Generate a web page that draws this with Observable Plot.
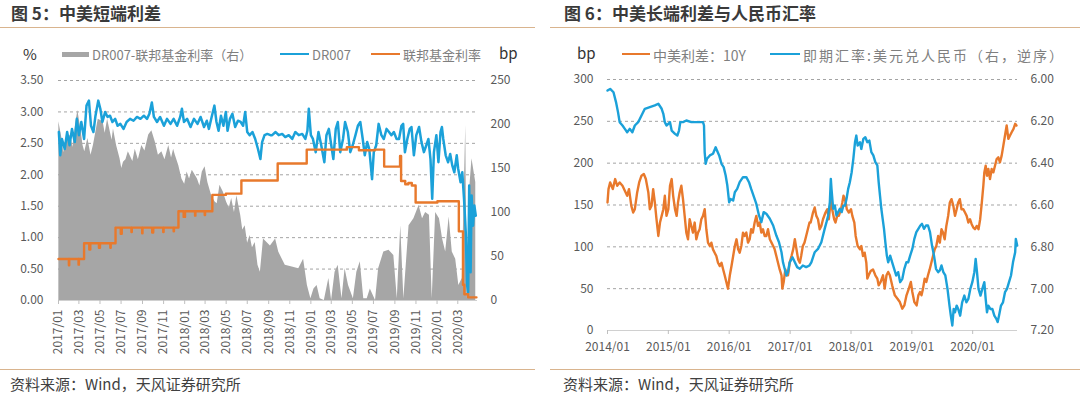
<!DOCTYPE html>
<html><head><meta charset="utf-8">
<script src="https://cdn.jsdelivr.net/npm/d3@7"></script>
<script src="https://cdn.jsdelivr.net/npm/@observablehq/plot@0.6"></script>
<style>
body{margin:0;background:#fff;}
#root{position:relative;width:1080px;height:395px;overflow:hidden;background:#fff;font-family:"Noto Sans CJK SC","Noto Sans",sans-serif;}
.abs{position:absolute;white-space:nowrap;line-height:1;}
.title{font-size:17px;font-weight:bold;color:#3a3a3a;}
.rule{position:absolute;height:1px;background:#d9b48e;}
.foot{font-size:15px;color:#404040;}
.leg{font-size:13px;color:#7f7f7f;}
.unit{font-size:15px;color:#333;}
.sw{position:absolute;}
</style></head><body><div id="root"></div>
<script>
// ---------------- Figure 5 data ----------------
const leftXLabels = ["2017/01","2017/03","2017/05","2017/07","2017/09","2017/11","2018/01","2018/03","2018/05","2018/07","2018/09","2018/11","2019/01","2019/03","2019/05","2019/07","2019/09","2019/11","2020/01","2020/03"];
const leftYTicks = [0,0.5,1,1.5,2,2.5,3,3.5];
const bpTicks = [0,50,100,150,200,250];
const leftSeriesNames = ["DR007-联邦基金利率（右）","DR007","联邦基金利率"];

const dr007 = [["2017-01-02",2.68],["2017-01-06",2.31],["2017-01-11",2.57],["2017-01-19",2.41],["2017-01-26",2.68],["2017-02-02",2.47],["2017-02-09",2.73],["2017-02-17",2.52],["2017-02-23",2.89],["2017-03-01",2.63],["2017-03-08",2.84],["2017-03-16",2.57],["2017-03-23",3.10],["2017-03-30",3.18],["2017-04-05",2.78],["2017-04-12",2.68],["2017-04-18",2.94],["2017-04-26",3.18],["2017-05-02",3.05],["2017-05-08",2.84],["2017-05-16",3.00],["2017-05-23",2.92],["2017-05-30",2.94],["2017-06-06",2.84],["2017-06-14",2.89],["2017-06-21",2.78],["2017-06-29",2.81],["2017-07-08",2.73],["2017-07-17",2.84],["2017-07-27",2.89],["2017-08-06",2.86],["2017-08-16",2.92],["2017-08-26",2.89],["2017-09-05",2.94],["2017-09-14",2.89],["2017-09-21",2.97],["2017-09-28",3.15],["2017-10-04",2.92],["2017-10-13",2.84],["2017-10-22",2.92],["2017-11-02",2.78],["2017-11-11",2.89],["2017-11-21",2.81],["2017-11-30",2.89],["2017-12-10",2.78],["2017-12-19",2.92],["2017-12-24",3.05],["2017-12-30",2.84],["2018-01-08",2.89],["2018-01-18",2.76],["2018-01-28",2.89],["2018-02-07",2.81],["2018-02-16",2.92],["2018-02-26",2.76],["2018-03-06",2.86],["2018-03-12",2.73],["2018-03-20",2.92],["2018-03-28",3.10],["2018-04-03",2.84],["2018-04-09",2.70],["2018-04-16",2.94],["2018-04-23",2.78],["2018-04-30",3.00],["2018-05-05",2.70],["2018-05-12",2.89],["2018-05-19",2.97],["2018-05-27",2.76],["2018-06-04",2.86],["2018-06-12",2.84],["2018-06-19",2.78],["2018-06-25",3.00],["2018-07-01",2.68],["2018-07-08",2.63],["2018-07-16",2.68],["2018-07-24",2.57],["2018-08-01",2.41],["2018-08-08",2.25],["2018-08-13",2.52],["2018-08-20",2.63],["2018-08-28",2.65],["2018-09-06",2.63],["2018-09-11",2.63],["2018-09-21",2.68],["2018-09-30",2.63],["2018-10-10",2.65],["2018-10-19",2.60],["2018-10-29",2.63],["2018-11-08",2.57],["2018-11-17",2.68],["2018-11-27",2.63],["2018-12-07",2.65],["2018-12-16",2.57],["2018-12-22",2.70],["2018-12-26",3.05],["2019-01-01",2.63],["2019-01-07",2.57],["2019-01-15",2.36],["2019-01-23",2.68],["2019-01-31",2.47],["2019-02-09",2.20],["2019-02-15",2.63],["2019-02-22",2.73],["2019-03-01",2.47],["2019-03-07",2.25],["2019-03-14",2.73],["2019-03-20",2.84],["2019-03-27",2.36],["2019-04-04",2.57],["2019-04-10",2.84],["2019-04-18",2.68],["2019-04-25",2.36],["2019-05-02",2.47],["2019-05-10",2.63],["2019-05-17",2.78],["2019-05-24",2.84],["2019-05-31",2.57],["2019-06-06",2.31],["2019-06-13",2.52],["2019-06-19",2.41],["2019-06-27",1.93],["2019-07-02",2.36],["2019-07-09",2.47],["2019-07-16",2.81],["2019-07-24",2.63],["2019-07-31",2.57],["2019-08-08",2.73],["2019-08-15",2.68],["2019-08-22",2.63],["2019-08-29",2.68],["2019-09-06",2.57],["2019-09-13",2.57],["2019-09-20",2.78],["2019-09-25",2.81],["2019-09-30",2.36],["2019-10-07",2.57],["2019-10-14",2.73],["2019-10-19",2.76],["2019-10-26",2.31],["2019-11-02",2.63],["2019-11-10",2.76],["2019-11-17",2.52],["2019-11-24",2.36],["2019-12-01",2.47],["2019-12-07",2.57],["2019-12-13",2.25],["2019-12-18",1.62],["2019-12-23",2.36],["2019-12-30",2.63],["2020-01-05",2.20],["2020-01-11",2.68],["2020-01-15",2.76],["2020-01-19",2.57],["2020-01-26",2.31],["2020-02-02",2.20],["2020-02-08",2.33],["2020-02-14",2.15],["2020-02-20",2.04],["2020-02-27",2.31],["2020-03-02",2.10],["2020-03-09",1.88],["2020-03-14",2.04],["2020-03-19",1.62],["2020-03-24",1.09],["2020-03-28",0.24],["2020-03-31",0.13],["2020-04-03",1.83],["2020-04-07",0.45],["2020-04-10",1.67],["2020-04-14",1.19],["2020-04-18",1.51],["2020-04-22",1.35]];

const fedFunds = [["2017-01-01",0.66],["2017-01-31",0.56],["2017-02-01",0.66],["2017-02-28",0.57],["2017-03-01",0.66],["2017-03-16",0.91],["2017-03-31",0.81],["2017-04-03",0.91],["2017-04-28",0.84],["2017-05-01",0.91],["2017-05-31",0.84],["2017-06-01",0.91],["2017-06-15",1.16],["2017-06-30",1.06],["2017-07-03",1.16],["2017-07-31",1.09],["2017-08-01",1.16],["2017-08-31",1.07],["2017-09-01",1.16],["2017-09-29",1.08],["2017-10-02",1.16],["2017-10-31",1.09],["2017-11-01",1.16],["2017-11-30",1.10],["2017-12-01",1.16],["2017-12-14",1.42],["2017-12-29",1.33],["2018-01-02",1.42],["2018-01-31",1.35],["2018-02-01",1.42],["2018-02-28",1.36],["2018-03-01",1.42],["2018-03-22",1.68],["2018-04-30",1.70],["2018-06-14",1.91],["2018-09-27",2.18],["2018-12-20",2.40],["2019-04-15",2.44],["2019-05-20",2.39],["2019-07-05",2.40],["2019-08-01",2.13],["2019-09-16",2.30],["2019-09-19",1.90],["2019-10-01",1.85],["2019-10-10",1.87],["2019-10-20",1.83],["2019-10-31",1.56],["2020-01-02",1.58],["2020-03-04",1.10],["2020-03-16",0.25],["2020-03-20",0.10],["2020-03-31",0.05],["2020-04-24",0.05]];

const dr007MinusFed = [["2017-01-02",203],["2017-01-11",184],["2017-01-16",168],["2017-01-21",180],["2017-02-05",188],["2017-02-12",174],["2017-02-19",199],["2017-02-26",216],["2017-03-08",191],["2017-03-13",176],["2017-03-18",169],["2017-03-27",184],["2017-04-05",165],["2017-04-12",176],["2017-04-26",206],["2017-05-10",203],["2017-05-16",190],["2017-05-23",206],["2017-06-05",182],["2017-06-09",195],["2017-06-18",176],["2017-06-28",161],["2017-07-03",150],["2017-07-08",157],["2017-07-15",160],["2017-07-22",169],["2017-08-04",158],["2017-08-11",172],["2017-08-20",160],["2017-08-30",176],["2017-09-08",170],["2017-09-19",188],["2017-09-28",193],["2017-10-08",180],["2017-10-17",165],["2017-10-27",169],["2017-11-05",160],["2017-11-16",176],["2017-11-24",162],["2017-11-30",172],["2017-12-05",165],["2017-12-15",153],["2017-12-24",138],["2018-01-01",132],["2018-01-08",146],["2018-01-15",138],["2018-01-23",148],["2018-02-07",138],["2018-02-14",130],["2018-02-21",146],["2018-03-01",152],["2018-03-09",134],["2018-03-20",119],["2018-03-30",112],["2018-04-05",110],["2018-04-13",131],["2018-04-23",123],["2018-05-02",112],["2018-05-10",105],["2018-05-17",116],["2018-05-25",100],["2018-06-01",119],["2018-06-12",97],["2018-06-18",80],["2018-06-25",85],["2018-07-02",65],["2018-07-09",74],["2018-07-16",60],["2018-07-24",66],["2018-08-01",40],["2018-08-08",32],["2018-08-17",70],["2018-09-06",62],["2018-09-21",70],["2018-09-30",55],["2018-10-19",40],["2018-11-08",38],["2018-11-27",36],["2018-12-11",47],["2018-12-22",17],["2019-01-01",2],["2019-01-10",13],["2019-01-19",17],["2019-01-28",2],["2019-02-09",0],["2019-02-22",25],["2019-03-02",0],["2019-03-12",32],["2019-03-21",40],["2019-04-01",2],["2019-04-10",36],["2019-04-20",17],["2019-05-04",2],["2019-05-14",32],["2019-05-24",44],["2019-06-03",2],["2019-06-13",2],["2019-06-22",13],["2019-07-07",0],["2019-07-16",36],["2019-07-31",55],["2019-08-15",57],["2019-08-29",51],["2019-09-08",2],["2019-09-18",85],["2019-09-27",2],["2019-10-12",85],["2019-10-26",93],["2019-11-10",108],["2019-11-20",93],["2019-11-29",100],["2019-12-10",97],["2019-12-18",2],["2019-12-28",100],["2020-01-08",93],["2020-01-17",70],["2020-01-26",55],["2020-02-05",95],["2020-02-14",55],["2020-02-24",47],["2020-03-04",17],["2020-03-14",25],["2020-03-24",199],["2020-03-28",2],["2020-04-03",119],["2020-04-11",161],["2020-04-22",134]];

// ---------------- Figure 6 data ----------------
const rightXLabels = ["2014/01","2015/01","2016/01","2017/01","2018/01","2019/01","2020/01"];
const rightYTicks = [0,50,100,150,200,250,300];
const fxTicks = [6.00,6.20,6.40,6.60,6.80,7.00,7.20];
const rightSeriesNames = ["中美利差：10Y","即期汇率:美元兑人民币（右，逆序）"];

const cnUs10ySpread = [["2014-01-01",153],["2014-01-07",169],["2014-01-17",177],["2014-02-02",169],["2014-02-16",181],["2014-02-28",173],["2014-03-15",177],["2014-04-01",173],["2014-04-15",167],["2014-04-29",161],["2014-05-10",169],["2014-05-24",149],["2014-06-04",141],["2014-06-14",145],["2014-06-28",165],["2014-07-10",177],["2014-07-24",185],["2014-08-07",187],["2014-08-19",181],["2014-09-03",165],["2014-09-12",145],["2014-09-22",149],["2014-10-02",169],["2014-10-12",153],["2014-10-22",133],["2014-11-02",113],["2014-11-12",129],["2014-11-22",137],["2014-12-02",145],["2014-12-11",161],["2014-12-21",137],["2015-01-01",145],["2015-01-11",173],["2015-01-21",181],["2015-01-30",161],["2015-02-10",145],["2015-02-20",137],["2015-02-28",153],["2015-03-10",165],["2015-03-20",173],["2015-03-30",157],["2015-04-09",137],["2015-04-19",117],["2015-04-29",109],["2015-05-09",133],["2015-05-19",125],["2015-05-29",117],["2015-06-08",129],["2015-06-18",109],["2015-06-28",117],["2015-07-08",121],["2015-07-18",133],["2015-07-28",137],["2015-08-07",145],["2015-08-17",121],["2015-08-27",105],["2015-09-07",101],["2015-09-16",105],["2015-09-26",97],["2015-10-06",93],["2015-10-16",89],["2015-10-26",81],["2015-11-06",77],["2015-11-16",81],["2015-11-26",73],["2015-12-05",66],["2015-12-15",58],["2015-12-25",50],["2016-01-05",66],["2016-01-15",77],["2016-01-25",89],["2016-02-04",101],["2016-02-14",109],["2016-02-24",97],["2016-03-04",93],["2016-03-14",101],["2016-03-24",117],["2016-04-03",113],["2016-04-13",117],["2016-04-23",105],["2016-05-03",109],["2016-05-12",121],["2016-05-22",117],["2016-06-02",129],["2016-06-12",137],["2016-06-22",125],["2016-07-02",129],["2016-07-12",117],["2016-07-22",121],["2016-08-01",113],["2016-08-11",113],["2016-08-21",121],["2016-09-01",109],["2016-09-11",105],["2016-09-21",101],["2016-09-30",97],["2016-10-10",89],["2016-10-20",81],["2016-10-30",73],["2016-11-10",66],["2016-11-15",50],["2016-11-23",58],["2016-12-03",73],["2016-12-13",66],["2016-12-19",66],["2016-12-29",81],["2017-01-09",89],["2017-01-19",97],["2017-01-29",109],["2017-02-08",97],["2017-02-18",85],["2017-02-28",81],["2017-03-08",89],["2017-03-18",101],["2017-03-28",105],["2017-04-07",113],["2017-04-17",121],["2017-04-27",129],["2017-05-04",129],["2017-05-18",141],["2017-05-28",147],["2017-06-07",137],["2017-06-17",133],["2017-06-27",121],["2017-07-07",125],["2017-07-17",133],["2017-08-01",141],["2017-08-12",145],["2017-08-21",133],["2017-09-02",157],["2017-09-10",145],["2017-09-22",133],["2017-09-30",129],["2017-10-10",137],["2017-10-20",137],["2017-11-02",145],["2017-11-10",153],["2017-11-17",161],["2017-11-26",157],["2017-12-07",145],["2017-12-19",141],["2018-01-01",145],["2018-01-09",137],["2018-01-21",129],["2018-01-29",113],["2018-02-10",101],["2018-02-24",97],["2018-03-04",101],["2018-03-14",89],["2018-03-24",93],["2018-04-03",81],["2018-04-09",62],["2018-04-17",66],["2018-04-29",71],["2018-05-13",73],["2018-05-27",66],["2018-06-08",62],["2018-06-16",54],["2018-06-28",58],["2018-07-12",66],["2018-07-22",50],["2018-08-02",66],["2018-08-12",70],["2018-08-22",66],["2018-09-05",54],["2018-09-21",42],["2018-10-07",38],["2018-10-21",34],["2018-11-05",26],["2018-11-17",30],["2018-11-30",42],["2018-12-14",50],["2018-12-26",58],["2019-01-04",46],["2019-01-16",34],["2019-01-30",30],["2019-02-09",42],["2019-02-19",46],["2019-02-28",42],["2019-03-09",50],["2019-03-19",62],["2019-03-29",58],["2019-04-08",66],["2019-04-18",73],["2019-04-28",81],["2019-05-08",89],["2019-05-18",97],["2019-05-28",101],["2019-06-08",113],["2019-06-18",105],["2019-06-28",121],["2019-07-07",117],["2019-07-17",109],["2019-07-27",125],["2019-08-07",137],["2019-08-17",153],["2019-08-27",157],["2019-09-07",149],["2019-09-17",137],["2019-09-27",145],["2019-10-06",153],["2019-10-16",157],["2019-10-26",145],["2019-11-06",145],["2019-11-16",141],["2019-11-26",137],["2019-12-06",129],["2019-12-16",133],["2019-12-26",127],["2020-01-05",123],["2020-01-15",121],["2020-01-25",125],["2020-02-05",121],["2020-02-15",133],["2020-02-25",153],["2020-03-05",173],["2020-03-11",189],["2020-03-19",197],["2020-03-27",185],["2020-04-04",193],["2020-04-14",181],["2020-04-24",193],["2020-05-04",189],["2020-05-14",197],["2020-05-24",205],["2020-06-03",207],["2020-06-13",201],["2020-06-23",209],["2020-07-03",221],["2020-07-13",233],["2020-07-23",245],["2020-08-02",229],["2020-08-12",233],["2020-08-22",237],["2020-09-02",241],["2020-09-12",247],["2020-09-20",245]];

const usdCny = [["2014-01-01",6.053],["2014-01-17",6.045],["2014-02-06",6.061],["2014-02-21",6.108],["2014-03-05",6.156],["2014-03-15",6.204],["2014-04-01",6.220],["2014-04-15",6.236],["2014-04-29",6.252],["2014-05-14",6.236],["2014-05-30",6.252],["2014-06-14",6.220],["2014-07-04",6.204],["2014-07-24",6.172],["2014-08-13",6.140],["2014-09-12",6.132],["2014-10-12",6.124],["2014-11-02",6.116],["2014-11-22",6.140],["2014-12-02",6.164],["2014-12-11",6.204],["2014-12-21",6.220],["2015-01-11",6.204],["2015-01-21",6.244],["2015-02-10",6.260],["2015-02-24",6.268],["2015-03-06",6.244],["2015-03-14",6.204],["2015-03-30",6.204],["2015-04-19",6.196],["2015-05-19",6.204],["2015-06-18",6.204],["2015-07-08",6.204],["2015-07-28",6.204],["2015-08-03",6.220],["2015-08-07",6.347],["2015-08-13",6.403],["2015-08-21",6.379],["2015-09-07",6.363],["2015-09-26",6.355],["2015-10-12",6.324],["2015-10-20",6.340],["2015-11-02",6.363],["2015-11-16",6.403],["2015-11-29",6.419],["2015-12-11",6.459],["2015-12-21",6.507],["2016-01-01",6.587],["2016-01-09",6.571],["2016-01-25",6.579],["2016-02-04",6.539],["2016-02-18",6.523],["2016-03-04",6.491],["2016-03-24",6.467],["2016-04-13",6.467],["2016-04-29",6.491],["2016-05-12",6.523],["2016-05-26",6.555],["2016-06-12",6.595],["2016-06-28",6.650],["2016-07-12",6.682],["2016-07-26",6.634],["2016-08-11",6.642],["2016-09-01",6.666],["2016-09-21",6.698],["2016-10-10",6.746],["2016-10-26",6.778],["2016-11-10",6.826],["2016-11-19",6.874],["2016-11-29",6.905],["2016-12-09",6.937],["2016-12-19",6.921],["2016-12-29",6.874],["2017-01-15",6.850],["2017-01-29",6.874],["2017-02-12",6.897],["2017-02-28",6.905],["2017-03-18",6.889],["2017-04-07",6.897],["2017-04-27",6.889],["2017-05-08",6.874],["2017-05-28",6.826],["2017-06-17",6.810],["2017-07-07",6.778],["2017-07-27",6.714],["2017-08-07",6.682],["2017-08-17",6.650],["2017-08-27",6.587],["2017-09-02",6.475],["2017-09-06",6.523],["2017-09-16",6.618],["2017-09-26",6.603],["2017-10-06",6.650],["2017-10-16",6.634],["2017-10-26",6.618],["2017-11-06",6.634],["2017-11-16",6.603],["2017-11-26",6.603],["2017-12-05",6.571],["2017-12-15",6.523],["2017-12-25",6.491],["2018-01-05",6.443],["2018-01-15",6.379],["2018-01-25",6.300],["2018-02-02",6.268],["2018-02-10",6.316],["2018-02-24",6.300],["2018-03-04",6.332],["2018-03-16",6.284],["2018-03-28",6.276],["2018-04-09",6.300],["2018-04-21",6.292],["2018-05-03",6.347],["2018-05-15",6.363],["2018-05-27",6.395],["2018-06-08",6.411],["2018-06-16",6.491],["2018-06-24",6.555],["2018-07-02",6.618],["2018-07-10",6.666],["2018-07-18",6.714],["2018-07-26",6.778],["2018-08-04",6.842],["2018-08-12",6.874],["2018-08-24",6.842],["2018-09-05",6.874],["2018-09-17",6.905],["2018-09-29",6.937],["2018-10-11",6.921],["2018-10-23",6.969],["2018-11-05",6.953],["2018-11-17",6.905],["2018-11-29",6.874],["2018-12-10",6.874],["2018-12-22",6.842],["2019-01-04",6.810],["2019-01-16",6.762],["2019-01-28",6.730],["2019-02-09",6.714],["2019-02-21",6.698],["2019-03-03",6.690],["2019-03-15",6.714],["2019-03-27",6.698],["2019-04-08",6.698],["2019-04-20",6.730],["2019-05-02",6.794],["2019-05-14",6.842],["2019-05-26",6.905],["2019-06-08",6.921],["2019-06-18",6.913],["2019-06-28",6.889],["2019-07-09",6.921],["2019-07-21",6.937],["2019-08-03",7.001],["2019-08-15",7.081],["2019-08-23",7.129],["2019-09-01",7.176],["2019-09-09",7.097],["2019-09-17",7.113],["2019-09-27",7.081],["2019-10-06",7.097],["2019-10-18",7.129],["2019-10-30",7.065],["2019-11-12",7.033],["2019-11-24",7.065],["2019-12-06",7.049],["2019-12-18",7.001],["2019-12-30",6.969],["2020-01-11",6.921],["2020-01-19",6.858],["2020-01-27",6.921],["2020-02-05",7.001],["2020-02-17",7.033],["2020-02-28",7.001],["2020-03-11",6.969],["2020-03-19",7.049],["2020-03-27",7.113],["2020-04-04",7.081],["2020-04-16",7.097],["2020-04-28",7.097],["2020-05-10",7.129],["2020-05-22",7.144],["2020-05-30",7.160],["2020-06-07",7.129],["2020-06-19",7.081],["2020-07-01",7.065],["2020-07-13",7.017],["2020-07-25",7.001],["2020-08-06",6.969],["2020-08-18",6.937],["2020-08-30",6.874],["2020-09-12",6.826],["2020-09-16",6.762],["2020-09-24",6.794]];

// ---------------- Rendering ----------------
const BLUE = "#1ba1d9", ORANGE = "#e8792c", GREY = "#a6a6a6";
const FONT = '"Noto Sans CJK SC","Noto Sans",sans-serif';
const rows = arr => arr.map(([d, v]) => ({date: new Date(d + "T00:00:00Z"), value: v}));
const labelDate = s => new Date(s.replace("/", "-") + "-01T00:00:00Z");
const fmtMonth = d3.utcFormat("%Y/%m");
const root = document.getElementById("root");

function add(text, cls, left, top, extra = "") {
  const el = document.createElement("div");
  el.className = "abs " + cls;
  el.style.left = left + "px"; el.style.top = top + "px";
  if (extra) el.style.cssText += extra;
  el.textContent = text;
  root.appendChild(el);
  return el;
}
function box(left, top, w, h, color) {
  const el = document.createElement("div");
  el.className = "sw";
  el.style.cssText = `left:${left}px;top:${top}px;width:${w}px;height:${h}px;background:${color};`;
  root.appendChild(el);
}
function rule(left, top, w) {
  const el = document.createElement("div");
  el.className = "rule";
  el.style.left = left + "px"; el.style.top = top + "px"; el.style.width = w + "px";
  root.appendChild(el);
}

// Titles, rules, footers
add("图 5：中美短端利差", "title", 11, 4);
add("图 6：中美长端利差与人民币汇率", "title", 564, 4);
rule(0, 27, 535); rule(550, 27, 530);
rule(0, 369, 535); rule(550, 369, 530);
add("资料来源：Wind，天风证券研究所", "foot", 10, 376);
add("资料来源：Wind，天风证券研究所", "foot", 563, 376);

// Left legend
add("%", "unit", 23, 46);
box(62, 52, 27, 5, GREY);
add(leftSeriesNames[0], "leg", 92, 48);
box(280, 53, 29, 2, BLUE);
add(leftSeriesNames[1], "leg", 312, 48);
box(371, 53, 29, 2, ORANGE);
add(leftSeriesNames[2], "leg", 403, 48);
add("bp", "unit", 499, 45);

// Right legend
add("bp", "unit", 577, 45);
box(622, 53, 28, 2, ORANGE);
add(rightSeriesNames[0], "leg", 653, 47.5, "font-size:14px;");
box(770, 53, 30, 2, BLUE);
add(rightSeriesNames[1], "leg", 803, 47.5, "font-size:14px;letter-spacing:2px;");

const BP2PCT = 3.5 / 250;
const axisStyle = {fontFamily: FONT, fontSize: "12px", color: "#595959", background: "transparent", overflow: "visible"};

const leftPlot = Plot.plot({
  width: 540, height: 300, marginTop: 20, marginBottom: 60, marginLeft: 58, marginRight: 63,
  style: axisStyle,
  x: {type: "utc", domain: [new Date("2017-01-01T00:00:00Z"), new Date("2020-04-27T00:00:00Z")]},
  y: {domain: [0, 3.5]},
  marks: [
    Plot.gridY(leftYTicks.slice(1), {stroke: "#9a9a9a", strokeOpacity: 0.9, strokeDasharray: "3,3"}),
    Plot.areaY(rows(dr007MinusFed), {x: "date", y: d => d.value * BP2PCT, fill: GREY}),
    Plot.ruleY([0], {stroke: "#d0d0d0"}),
    Plot.lineY(rows(dr007), {x: "date", y: "value", stroke: BLUE, strokeWidth: 2.5}),
    Plot.lineY(rows(fedFunds), {x: "date", y: "value", stroke: ORANGE, strokeWidth: 2.4, curve: "step-after"}),
    Plot.axisY(leftYTicks, {tickSize: 0, tickPadding: 15, tickFormat: d3.format(".2f"), label: null}),
    Plot.axisY(bpTicks.map(b => b * BP2PCT), {anchor: "right", tickSize: 0, tickPadding: 13, tickFormat: d => String(Math.round(d / BP2PCT)), label: null}),
    Plot.axisX(leftXLabels.map(labelDate), {tickRotate: -90, tickSize: 4, tickPadding: 5, tickFormat: fmtMonth, stroke: "#bfbfbf", fill: "#595959", label: null})
  ]
});
leftPlot.style.position = "absolute"; leftPlot.style.left = "0px"; leftPlot.style.top = "60px";
root.appendChild(leftPlot);

const fxToLeft = v => (7.2 - v) * 250;
const rightPlot = Plot.plot({
  width: 540, height: 302, marginTop: 19, marginBottom: 32, marginLeft: 67, marginRight: 63,
  style: axisStyle,
  x: {type: "utc", domain: [new Date("2014-01-01T00:00:00Z"), new Date("2020-09-26T00:00:00Z")]},
  y: {domain: [0, 300]},
  marks: [
    Plot.gridY(rightYTicks.slice(1), {stroke: "#9a9a9a", strokeOpacity: 0.9, strokeDasharray: "3,3"}),
    Plot.ruleY([0], {stroke: "#d0d0d0"}),
    Plot.lineY(rows(cnUs10ySpread), {x: "date", y: "value", stroke: ORANGE, strokeWidth: 2.4}),
    Plot.lineY(rows(usdCny), {x: "date", y: d => fxToLeft(d.value), stroke: BLUE, strokeWidth: 2.4}),
    Plot.axisY(rightYTicks, {tickSize: 0, tickPadding: 14, tickFormat: d3.format("d"), label: null}),
    Plot.axisY(fxTicks.map(fxToLeft), {anchor: "right", tickSize: 0, tickPadding: 13, tickFormat: d => (7.2 - d / 250).toFixed(2), label: null}),
    Plot.axisX(rightXLabels.map(labelDate), {tickSize: 4, tickPadding: 8, tickFormat: fmtMonth, stroke: "#bfbfbf", fill: "#595959", label: null})
  ]
});
rightPlot.style.position = "absolute"; rightPlot.style.left = "540px"; rightPlot.style.top = "60px";
root.appendChild(rightPlot);
</script>
</body></html>
